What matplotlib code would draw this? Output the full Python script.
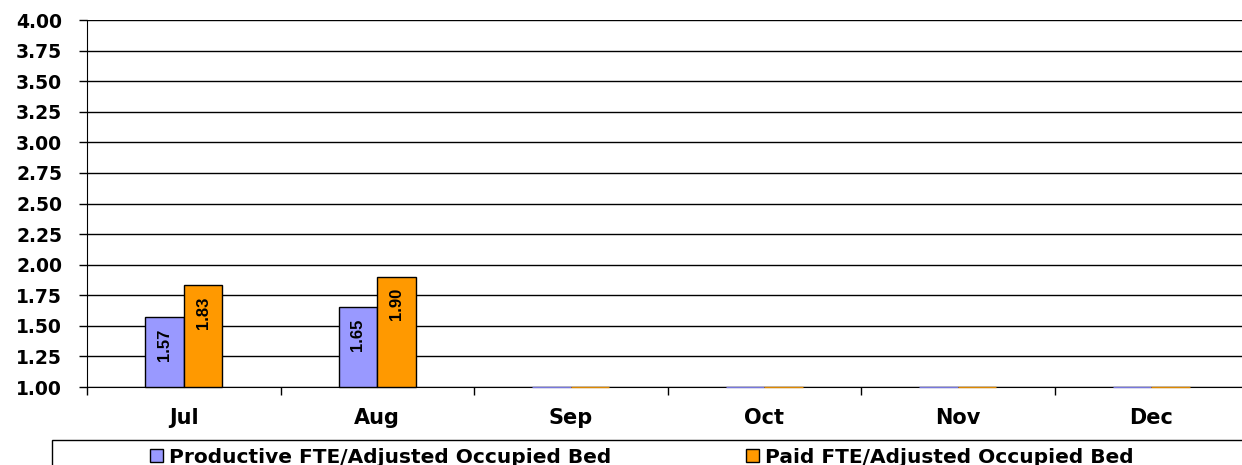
import numpy as np
import matplotlib.pyplot as plt
from matplotlib.patches import Rectangle

# Datos del grafico
meses = ['Jul', 'Aug', 'Sep', 'Oct', 'Nov', 'Dec']
productivo = [1.57, 1.65, 0, 0, 0, 0]
pagado = [1.83, 1.90, 0, 0, 0, 0]
yticks = [1.00, 1.25, 1.50, 1.75, 2.00, 2.25, 2.50, 2.75, 3.00, 3.25, 3.50, 3.75, 4.00]

base = 1.0
plt.rcParams['font.family'] = ['DejaVu Sans']

fig = plt.figure(figsize=(12.42, 4.65), dpi=100)
ax = fig.add_axes([87 / 1242, 1 - 387 / 465, 1161 / 1242, 367 / 465])

x = np.arange(len(meses))
w = 0.2
alt_p = [max(v - base, 0) for v in productivo]
alt_g = [max(v - base, 0) for v in pagado]

# barras vacias (sin dato) se ven como una linea del color de la serie
bordes_p = ['black' if a > 0 else '#7777DD' for a in alt_p]
bordes_g = ['black' if a > 0 else '#DD8800' for a in alt_g]

barras_p = ax.bar(x - w / 2, alt_p, w, bottom=base, color='#9999FF', edgecolor=bordes_p, linewidth=1,
                  zorder=3, label='Productive FTE/Adjusted Occupied Bed')
barras_g = ax.bar(x + w / 2, alt_g, w, bottom=base, color='#FF9900', edgecolor=bordes_g, linewidth=1,
                  zorder=3, label='Paid FTE/Adjusted Occupied Bed')
for b in list(barras_p) + list(barras_g):
    b.set_clip_on(False)

# Etiquetas de valores dentro de las barras
for i in range(len(meses)):
    for v, dx in ((productivo[i], -w / 2), (pagado[i], w / 2)):
        if v > base:
            ax.annotate('%.2f' % v, (x[i] + dx, v), xytext=(0, -8), textcoords='offset points',
                        rotation=90, ha='center', va='top', fontsize=12, fontweight='bold',
                        family=['Liberation Sans'], zorder=4)

ax.set_xlim(-0.5, len(meses) - 0.5)
ax.set_ylim(1.0, 4.0)
ax.set_yticks(yticks)
ax.set_yticklabels(['%.2f' % t for t in yticks], fontsize=13.5, fontweight='bold')
ax.yaxis.grid(True, color='black', linewidth=1, zorder=0)
ax.tick_params(axis='y', length=6, width=1, pad=12)

ax.set_xticks(x)
ax.set_xticklabels(meses, fontsize=15, fontweight='bold')
ax.tick_params(axis='x', length=0, pad=15)
ax.set_xticks(np.arange(len(meses) + 1) - 0.5, minor=True)
ax.tick_params(axis='x', which='minor', length=6, width=1, direction='out')

ax.spines['top'].set_visible(False)
ax.spines['right'].set_visible(False)

# Caja de la leyenda
fig.patches.append(Rectangle((52 / 1242, -0.2), 1.2, 0.2 + 1 - 440 / 465, transform=fig.transFigure,
                             fill=False, edgecolor='black', linewidth=1))
handles, labels = ax.get_legend_handles_labels()
for h in handles:
    h.patches[0].set_edgecolor('black')
fig.legend(handles, labels, loc='center left', bbox_to_anchor=(150 / 1242, 1 - 457 / 465), ncol=2,
           frameon=False, prop={'size': 14.5, 'weight': 'bold'}, handlelength=0.65, handleheight=0.65,
           handletextpad=0.3, columnspacing=6.7, borderaxespad=0, borderpad=0)

fig.savefig('out.png', dpi=100)
